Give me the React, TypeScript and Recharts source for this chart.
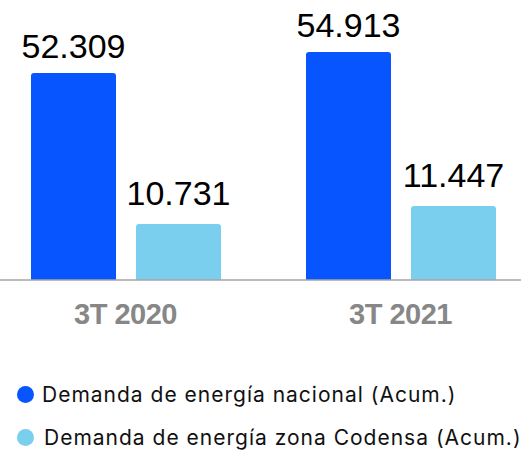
import { BarChart, Bar, XAxis, YAxis, LabelList } from 'recharts';

const categories = ['3T 2020', '3T 2021'];
const nacional = [52309, 54913];
const codensa = [10731, 11447];
const seriesNames = [
  'Demanda de energía nacional (Acum.)',
  'Demanda de energía zona Codensa (Acum.)',
];
const COLORS = ['#0655FF', '#7BCFEE'];

// each series has its own hidden axis, the original chart is not on a shared scale
const nacionalDomain = [26640, 58880];
const codensaDomain = [8504, 18846];

const data = categories.map((name, i) => ({
  name,
  nacional: nacional[i],
  codensa: codensa[i],
}));

const fmt = (v: any) => String(v).replace(/\B(?=(\d{3})+(?!\d))/g, '.');

const LABEL_FONT = '"Liberation Sans", Arial, Helvetica, sans-serif';

function CategoryTick(props: any) {
  const { x, y, payload } = props;
  return (
    <text
      x={x}
      y={y + 44}
      textAnchor="middle"
      fill="#878787"
      fontSize={29}
      fontWeight={700}
      fontFamily={LABEL_FONT}
      letterSpacing={-0.5}
    >
      {payload.value}
    </text>
  );
}

export default function App() {
  return (
    <div
      style={{
        position: 'absolute',
        left: 0,
        top: 0,
        width: 521,
        height: 450,
        overflow: 'hidden',
        background: '#fff',
      }}
    >
      <div style={{ position: 'absolute', left: -12, top: 0 }}>
        <BarChart
          width={550}
          height={340}
          data={data}
          margin={{ top: 20, right: 0, bottom: 0, left: 0 }}
          barSize={85}
          barGap={20}
        >
          <XAxis
            dataKey="name"
            height={60}
            axisLine={{ stroke: '#A5A5A5', strokeWidth: 1.5 }}
            tickLine={false}
            tickSize={0}
            tickMargin={0}
            tick={<CategoryTick />}
          />
          <YAxis yAxisId="nac" hide type="number" domain={nacionalDomain} allowDataOverflow />
          <YAxis yAxisId="cod" hide type="number" domain={codensaDomain} allowDataOverflow />
          <Bar
            yAxisId="nac"
            dataKey="nacional"
            name={seriesNames[0]}
            fill={COLORS[0]}
            radius={[3, 3, 0, 0]}
            isAnimationActive={false}
          >
            <LabelList
              dataKey="nacional"
              position="top"
              offset={15}
              formatter={fmt}
              fill="#000"
              fontSize={34}
              fontFamily={LABEL_FONT}
            />
          </Bar>
          <Bar
            yAxisId="cod"
            dataKey="codensa"
            name={seriesNames[1]}
            fill={COLORS[1]}
            radius={[3, 3, 0, 0]}
            isAnimationActive={false}
          >
            <LabelList
              dataKey="codensa"
              position="top"
              offset={19}
              formatter={fmt}
              fill="#000"
              fontSize={34}
              fontFamily={LABEL_FONT}
            />
          </Bar>
        </BarChart>
      </div>
      {seriesNames.map((name, i) => (
        <div
          key={name}
          style={{
            position: 'absolute',
            left: 17,
            top: 382 + i * 43,
            height: 24,
            display: 'flex',
            alignItems: 'center',
            fontFamily: 'Inter, sans-serif',
            fontSize: 21,
            letterSpacing: 1,
            color: '#111',
            whiteSpace: 'nowrap',
          }}
        >
          <span
            style={{
              display: 'inline-block',
              width: 17,
              height: 17,
              borderRadius: '50%',
              background: COLORS[i],
              marginRight: 8 + i * 2,
            }}
          />
          {name}
        </div>
      ))}
    </div>
  );
}
